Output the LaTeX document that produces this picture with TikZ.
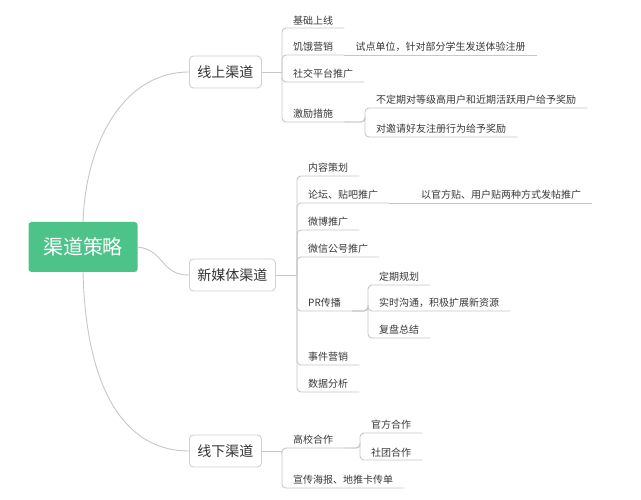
\documentclass[tikz,border=0pt]{standalone}
\usepackage{fontspec}
\setmainfont{Noto Sans CJK SC}
\begin{document}
\begin{tikzpicture}[x=1pt,y=-1pt,
  ln/.style={draw=black!22,line width=0.9pt},
  leaf/.style={anchor=south west,inner xsep=11pt,inner ysep=3pt,font=\fontsize{10}{12}\selectfont,text=black!78},
  br/.style={draw=black!18,line width=0.9pt,rounded corners=4pt,fill=white,minimum height=32pt,inner xsep=8pt,font=\fontsize{14}{16}\selectfont,text=black!80},
  conn/.style={ln,rounded corners=4pt}]
\useasboundingbox (0,0) rectangle (641,500);
\node[fill=green!45!teal!70!white,fill={rgb,255:red,77;green,195;blue,138},rounded corners=3pt,minimum width=109pt,minimum height=50pt,text=white,font=\fontsize{20}{22}\selectfont] (root) at (83,247) {渠道策略};
\node[br,anchor=west] (b1) at (189,72) {线上渠道};
\node[br,anchor=west] (b2) at (189,275) {新媒体渠道};
\node[br,anchor=west] (b3) at (189,451) {线下渠道};
\draw[ln] (root.north) .. controls (86,140) and (125,72) .. (b1.west);
\draw[ln] (root.east) .. controls (165,250) and (160,275) .. (b2.west);
\draw[ln] (root.south) .. controls (86,390) and (125,451) .. (b3.west);
% branch 1
\node[leaf] (a1) at (282,28) {基础上线};
\node[leaf] (a2) at (282,55) {饥饿营销};
\node[leaf] (a3) at (282,82) {社交平台推广};
\node[leaf] (a4) at (282,122) {激励措施};
\node[leaf] (a21) at (a2.south east) {试点单位，针对部分学生发送体验注册};
\node[leaf] (a41) at (365,108) {不定期对等级高用户和近期活跃用户给予奖励};
\node[leaf] (a42) at (365,137) {对邀请好友注册行为给予奖励};
\draw[ln] (b1.east) -- (282,72);
\foreach \n in {a1,a2,a3,a4} \draw[conn] (282,72) |- (\n.south east);
\draw[ln] (a2.south east) -- (a21.south east);
\foreach \n in {a41,a42} \draw[conn] (a4.south east) -| (365,122) |- (\n.south east);
% branch 2
\node[leaf] (c1) at (297,176) {内容策划};
\node[leaf] (c2) at (297,203) {论坛、贴吧推广};
\node[leaf] (c3) at (297,230) {微博推广};
\node[leaf] (c4) at (297,257) {微信公号推广};
\node[leaf] (c5) at (297,311) {PR传播};
\node[leaf] (c6) at (297,365) {事件营销};
\node[leaf] (c7) at (297,392) {数据分析};
\node[leaf] (c21) at (410,203) {以官方贴、用户贴两种方式发帖推广};
\node[leaf] (c51) at (368,285) {定期规划};
\node[leaf] (c52) at (368,311) {实时沟通，积极扩展新资源};
\node[leaf] (c53) at (368,338) {复盘总结};
\draw[ln] (b2.east) -- (297,275);
\foreach \n in {c1,c2,c3,c4,c5,c6,c7} \draw[conn] (297,275) |- (\n.south east);
\draw[ln] (c2.south east) -- (c21.south east);
\foreach \n in {c51,c52,c53} \draw[conn] (c5.south east) -| (368,311) |- (\n.south east);
% branch 3
\node[leaf] (d1) at (282,448) {高校合作};
\node[leaf] (d2) at (282,488) {宣传海报、地推卡传单};
\node[leaf] (d11) at (360,433) {官方合作};
\node[leaf] (d12) at (360,460) {社团合作};
\draw[ln] (b3.east) -- (282,451);
\foreach \n in {d1,d2} \draw[conn] (282,451) |- (\n.south east);
\foreach \n in {d11,d12} \draw[conn] (d1.south east) -| (360,448) |- (\n.south east);
\end{tikzpicture}
\end{document}
